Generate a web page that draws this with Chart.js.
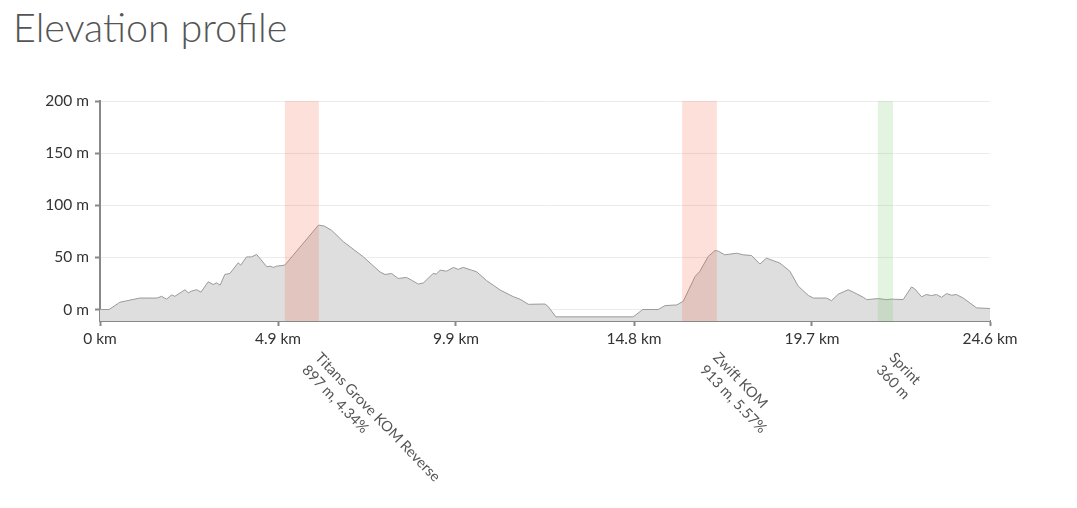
<!DOCTYPE html>
<html>
<head>
<meta charset="utf-8">
<script src="https://cdn.jsdelivr.net/npm/chart.js@4.4.1/dist/chart.umd.min.js"></script>
<style>
  body { margin: 0; background: #fff; }
  #title {
    position: absolute; left: 13px; top: 3px; margin: 0;
    font-family: Lato, "Open Sans", sans-serif; font-weight: 300;
    font-size: 39.5px; color: #555;
  }
  #wrap { position: absolute; left: 0; top: 0; }
</style>
</head>
<body>
<h1 id="title">Elevation profile</h1>
<div id="wrap"><canvas id="profile" width="1077" height="508"></canvas></div>
<script>
// elevation profile
const distKm = [0, 0.25, 0.55, 1.1, 1.58, 1.7, 1.84, 1.98, 2.07, 2.35, 2.44, 2.53, 2.67, 2.79, 2.99, 3.13, 3.22, 3.32, 3.45, 3.59,
  3.82, 3.89, 4.05, 4.19, 4.33, 4.61, 4.7, 4.79, 4.88, 5.11, 6.04, 6.2, 6.4, 6.73, 7.28, 7.74, 7.88, 8.06, 8.24, 8.47,
  8.61, 8.8, 8.94, 9.21, 9.3, 9.4, 9.58, 9.77, 9.9, 10.04, 10.27, 10.41, 10.69, 10.87, 11.06, 11.42, 11.61, 11.84, 12.3, 12.39,
  12.6, 14.74, 15.0, 15.43, 15.62, 15.94, 16.12, 16.45, 16.58, 16.81, 17.0, 17.09, 17.27, 17.6, 17.78, 18.01, 18.24, 18.42, 18.79, 19.07,
  19.3, 19.58, 19.72, 20.08, 20.22, 20.41, 20.68, 20.82, 21.1, 21.19, 21.51, 21.74, 21.88, 22.2, 22.43, 22.52, 22.71, 22.84, 22.98, 23.12,
  23.26, 23.4, 23.54, 23.67, 23.86, 24.23, 24.6];
const elevM = [0, 0, 7, 11, 11, 12.7, 10, 14, 12.7, 19, 16, 17.7, 19, 16.7, 26.6, 24, 25.6, 23.4, 33.6, 34.6,
  44.8, 42.6, 50.5, 50.5, 52.8, 41, 41.6, 40.4, 41.6, 42.6, 81, 80, 76, 65, 50.5, 36, 33.6, 34.6, 29.8, 30.8,
  28.2, 24.4, 25.6, 34.6, 34, 37.8, 36.8, 40.4, 38.5, 40.4, 37.8, 36.2, 27.6, 23.4, 18.7, 12.4, 9.9, 5, 5.3, 2.8,
  -7, -7, 0, 0, 3.8, 4.4, 7.9, 31.8, 36.6, 50.9, 56.6, 56, 52.5, 54, 52.5, 51.8, 43.6, 49.3, 44.6, 36.7,
  22.4, 13.5, 11, 11, 8.5, 14.8, 19, 16.7, 11.7, 9.5, 10.5, 9.5, 10, 9.5, 21.7, 19.8, 12.2, 14.4, 13.4, 14.4,
  11.7, 15.3, 13.7, 14.4, 11, 1.6, 1];

const xTicks = [0, 4.92, 9.84, 14.76, 19.68, 24.6];
const xTickLabels = ['0 km', '4.9 km', '9.9 km', '14.8 km', '19.7 km', '24.6 km'];
const yTicks = [0, 50, 100, 150, 200];

// segments
const segNames = ['Titans Grove KOM Reverse', 'Zwift KOM', 'Sprint'];
const segDetail = ['897 m, 4.34%', '913 m, 5.57%', '360 m'];
const segStart = [5.11, 16.09, 21.5];
const segEnd = [6.05, 17.05, 21.92];
const segColor = ['rgba(250,100,70,0.2)', 'rgba(250,100,70,0.2)', 'rgba(100,200,90,0.18)'];

const FONT = 'Lato, "Open Sans", sans-serif';

const segmentsPlugin = {
  id: 'segments',
  afterDatasetsDraw(chart) {
    const ctx = chart.ctx, xs = chart.scales.x, area = chart.chartArea;
    ctx.save();
    for (let i = 0; i < segNames.length; i++) {
      const x0 = xs.getPixelForValue(segStart[i]);
      const x1 = xs.getPixelForValue(segEnd[i]);
      ctx.fillStyle = segColor[i];
      ctx.fillRect(x0, area.top, x1 - x0, area.bottom - area.top);
    }
    ctx.restore();
  },
  afterDraw(chart) {
    const ctx = chart.ctx, xs = chart.scales.x;
    ctx.save();
    ctx.font = '14.5px ' + FONT;
    ctx.fillStyle = '#555';
    ctx.textAlign = 'left';
    ctx.textBaseline = 'top';
    for (let i = 0; i < segNames.length; i++) {
      const x1 = xs.getPixelForValue(segEnd[i]);
      ctx.save();
      ctx.translate(x1 + 4, 350);
      ctx.rotate(46 * Math.PI / 180);
      ctx.fillText(segNames[i], 0, 0);
      ctx.fillText(segDetail[i], 0, 18);
      ctx.restore();
    }
    ctx.restore();
  }
};

const pts = distKm.map((d, i) => ({ x: d, y: elevM[i] }));

new Chart(document.getElementById('profile'), {
  type: 'line',
  data: {
    datasets: [{
      data: pts,
      borderColor: '#9a9a9a',
      borderWidth: 1,
      backgroundColor: '#dedede',
      fill: 'start',
      pointRadius: 0,
      tension: 0
    }]
  },
  plugins: [segmentsPlugin],
  options: {
    responsive: false,
    animation: false,
    devicePixelRatio: 1,
    layout: { padding: { top: 101, right: 87, left: 0, bottom: 0 } },
    plugins: { legend: { display: false }, tooltip: { enabled: false } },
    scales: {
      x: {
        type: 'linear',
        min: 0, max: 24.6,
        afterBuildTicks: s => { s.ticks = xTicks.map(v => ({ value: v })); },
        afterFit: s => { s.height = 187; },
        border: { color: '#888', width: 2 },
        grid: { drawOnChartArea: false, tickLength: 5, tickColor: '#888', tickWidth: 2 },
        ticks: {
          maxRotation: 0, padding: 4, color: '#333',
          font: { family: FONT, size: 15.5 },
          callback: (v, i) => xTickLabels[i]
        }
      },
      y: {
        min: -11, max: 200,
        afterBuildTicks: s => { s.ticks = yTicks.map(v => ({ value: v })); },
        afterFit: s => { s.width = 100; },
        border: { color: '#888', width: 2 },
        grid: { color: '#ececec', tickLength: 5, tickColor: '#888', tickWidth: 2 },
        ticks: {
          padding: 6, color: '#333',
          font: { family: FONT, size: 15.5 },
          callback: v => v + ' m'
        }
      }
    }
  }
});
</script>
</body>
</html>
